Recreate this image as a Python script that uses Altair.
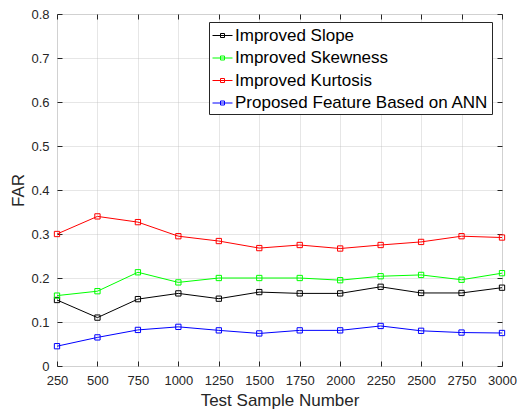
import altair as alt
import pandas as pd

samples = [250, 500, 750, 1000, 1250, 1500, 1750, 2000, 2250, 2500, 2750, 3000]
series_names = ["Improved Slope", "Improved Skewness", "Improved Kurtosis",
                "Proposed Feature Based on ANN"]
slope = [0.150, 0.110, 0.152, 0.165, 0.153, 0.168, 0.165, 0.165, 0.180, 0.166, 0.166, 0.178]
skewness = [0.160, 0.170, 0.213, 0.190, 0.200, 0.200, 0.200, 0.195, 0.204, 0.207, 0.196, 0.211]
kurtosis = [0.300, 0.340, 0.327, 0.295, 0.284, 0.268, 0.275, 0.267, 0.275, 0.282, 0.295, 0.292]
ann = [0.045, 0.065, 0.082, 0.089, 0.081, 0.074, 0.081, 0.081, 0.091, 0.080, 0.076, 0.075]
colors = ["#000000", "#00ff00", "#ff0000", "#0000ff"]
x_ticks = samples
y_ticks = [0, 0.1, 0.2, 0.3, 0.4, 0.5, 0.6, 0.7, 0.8]

rows = []
for name, vals in zip(series_names, [slope, skewness, kurtosis, ann]):
    for s, v in zip(samples, vals):
        rows.append({"n": s, "far": v, "series": name})
df = pd.DataFrame(rows)

FONT = "Liberation Sans"
xscale = alt.Scale(domain=[250, 3000], nice=False)
yscale = alt.Scale(domain=[0, 0.8], nice=False)

legend_path = "M-1,0L1,0M-0.2,-0.2L0.2,-0.2L0.2,0.2L-0.2,0.2Z"

main = alt.Chart(df).mark_line(
    strokeWidth=1,
    point=alt.OverlayMarkDef(shape="square", filled=False, size=28, strokeWidth=1),
).encode(
    x=alt.X("n:Q", scale=xscale, axis=alt.Axis(
        title="Test Sample Number", values=x_ticks, format="d", orient="bottom",
        offset=-5, tickSize=5, domain=False, grid=True, gridColor="#bdbdbd",
        gridOpacity=0.38, gridWidth=1,
        tickColor="#262626", labelColor="#262626", labelFont=FONT, labelFontSize=13,
        labelPadding=8, titleFont=FONT, titleFontSize=17, titleFontWeight="normal",
        titleColor="#262626", titlePadding=5, labelFlush=False)),
    y=alt.Y("far:Q", scale=yscale, axis=alt.Axis(
        title="FAR", values=y_ticks, orient="left",
        labelExpr="datum.value == 0 ? '0' : format(datum.value, '.1f')",
        offset=-5, tickSize=5, domain=False, grid=True, gridColor="#bdbdbd",
        gridOpacity=0.38, gridWidth=1,
        tickColor="#262626", labelColor="#262626", labelFont=FONT, labelFontSize=13,
        labelPadding=8, titleFont=FONT, titleFontSize=17, titleFontWeight="normal",
        titleColor="#262626", titlePadding=3)),
    color=alt.Color("series:N", scale=alt.Scale(domain=series_names, range=colors),
                    legend=alt.Legend(
                        title=None, orient="none", legendX=152, legendY=8,
                        symbolType=legend_path, symbolSize=400, symbolStrokeWidth=1,
                        symbolFillColor="white",
                        labelFont=FONT, labelFontSize=17, labelColor="#000000",
                        rowPadding=3.5, labelOffset=2,
                        strokeColor="#262626", fillColor="white", padding=3,
                        labelLimit=400)),
)

frame = alt.Chart(df).mark_point(opacity=0).encode(
    x=alt.X("n:Q", scale=xscale, axis=alt.Axis(
        title=None, values=x_ticks, orient="top", labels=False, offset=-5, tickSize=5,
        domain=False, grid=False, tickColor="#262626")),
    y=alt.Y("far:Q", scale=yscale, axis=alt.Axis(
        title=None, values=y_ticks, orient="right", labels=False, offset=-5, tickSize=5,
        domain=False, grid=False, tickColor="#262626")),
)

chart = alt.layer(main, frame).resolve_axis(x="independent", y="independent").properties(
    width=445, height=352,
    padding={"left": 49, "top": 6, "right": 15, "bottom": 49},
    autosize=alt.AutoSizeParams(type="none"),
).configure_view(stroke="#262626", strokeWidth=1).configure(background="white")

chart.save("out.html", embed_options={"renderer": "svg", "actions": False})
